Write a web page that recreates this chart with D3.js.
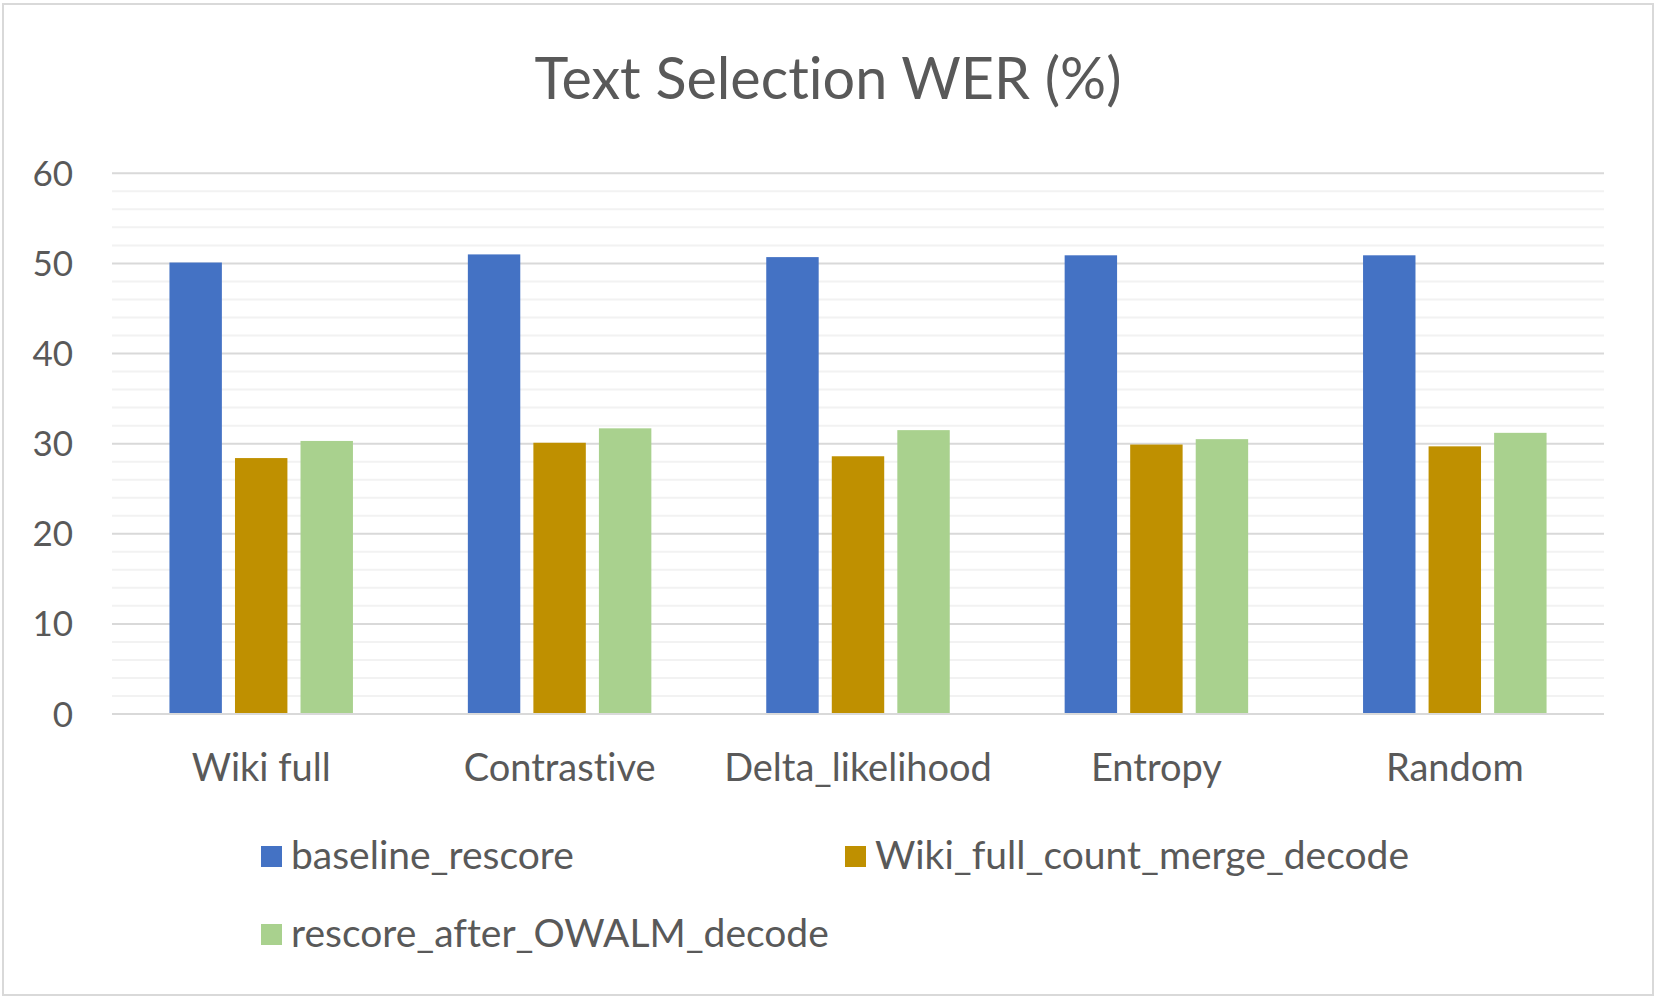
<!DOCTYPE html>
<html>
<head>
<meta charset="utf-8">
<script src="https://cdn.jsdelivr.net/npm/d3@7"></script>
<style>
  body { margin: 0; background: #fff; }
  text { font-family: Lato, "Open Sans", sans-serif; fill: #595959; font-variant-ligatures: none; }
</style>
</head>
<body>
<div id="chart"></div>
<script>
// data
var categories = ["Wiki full", "Contrastive", "Delta_likelihood", "Entropy", "Random"];
var seriesNames = ["baseline_rescore", "Wiki_full_count_merge_decode", "rescore_after_OWALM_decode"];
var baselineRescore = [50.1, 51.0, 50.7, 50.9, 50.9];
var wikiFullCountMerge = [28.4, 30.1, 28.6, 29.9, 29.7];
var rescoreAfterOwalm = [30.3, 31.7, 31.5, 30.5, 31.2];
var yTicks = [0, 10, 20, 30, 40, 50, 60];
var colors = ["#4472C4", "#BF9000", "#A9D18E"];

var seriesValues = [baselineRescore, wikiFullCountMerge, rescoreAfterOwalm];

var width = 1663,
  height = 1003,
  plot = { left: 112, right: 1604, top: 173.3, bottom: 714 };

var svg = d3.select("#chart")
  .append("svg")
  .attr("width", width)
  .attr("height", height);

// chart frame
svg.append("rect")
  .attr("x", 3)
  .attr("y", 4)
  .attr("width", 1650)
  .attr("height", 991)
  .attr("fill", "#fff")
  .attr("stroke", "#d9d9d9")
  .attr("stroke-width", 2);

var x0 = d3.scaleBand()
  .domain(categories)
  .range([plot.left, plot.right]);

var x1 = d3.scaleBand()
  .domain(seriesNames)
  .range([(x0.bandwidth() - 183.5) / 2, (x0.bandwidth() + 183.5) / 2])
  .paddingInner(0.2);

var y = d3.scaleLinear()
  .domain([0, 60])
  .range([plot.bottom, plot.top]);

// minor gridlines every 2
svg.append("g")
  .selectAll("line")
  .data(d3.range(2, 60, 2).filter(function (d) { return d % 10 !== 0; }))
  .join("line")
  .attr("x1", plot.left)
  .attr("x2", plot.right)
  .attr("y1", function (d) { return y(d); })
  .attr("y2", function (d) { return y(d); })
  .attr("stroke", "#f2f2f2")
  .attr("stroke-width", 2);

// major gridlines
svg.append("g")
  .selectAll("line")
  .data(yTicks)
  .join("line")
  .attr("x1", plot.left)
  .attr("x2", plot.right)
  .attr("y1", function (d) { return y(d); })
  .attr("y2", function (d) { return y(d); })
  .attr("stroke", "#d9d9d9")
  .attr("stroke-width", 2);

// y labels
svg.append("g")
  .selectAll("text")
  .data(yTicks)
  .join("text")
  .attr("x", 73)
  .attr("y", function (d) { return y(d); })
  .attr("dy", "0.36em")
  .attr("text-anchor", "end")
  .attr("font-size", 35)
  .text(function (d) { return d; });

// bars
var groups = svg.append("g")
  .selectAll("g")
  .data(categories)
  .join("g")
  .attr("transform", function (d) { return "translate(" + x0(d) + ",0)"; });

groups.selectAll("rect")
  .data(function (d, i) {
    return seriesNames.map(function (s, j) {
      return { series: s, value: seriesValues[j][i], color: colors[j] };
    });
  })
  .join("rect")
  .attr("x", function (d) { return x1(d.series); })
  .attr("width", x1.bandwidth())
  .attr("y", function (d) { return y(d.value); })
  .attr("height", function (d) { return y(0) - y(d.value); })
  .attr("fill", function (d) { return d.color; });

// baseline axis line over the bars
svg.append("line")
  .attr("x1", plot.left)
  .attr("x2", plot.right)
  .attr("y1", y(0))
  .attr("y2", y(0))
  .attr("stroke", "#d9d9d9")
  .attr("stroke-width", 2);

// category labels
svg.append("g")
  .selectAll("text")
  .data(categories)
  .join("text")
  .attr("x", function (d) { return x0(d) + x0.bandwidth() / 2; })
  .attr("y", 781)
  .attr("text-anchor", "middle")
  .attr("font-size", 38)
  .text(function (d) { return d; });

// title
svg.append("text")
  .attr("x", 828)
  .attr("y", 99)
  .attr("text-anchor", "middle")
  .attr("font-size", 57.5)
  .text("Text Selection WER (%)");

// legend
var legendPos = [
  { x: 261, y: 857 },
  { x: 845, y: 857 },
  { x: 261, y: 935 }
];

var legend = svg.append("g")
  .selectAll("g")
  .data(seriesNames)
  .join("g")
  .attr("transform", function (d, i) {
    return "translate(" + legendPos[i].x + "," + legendPos[i].y + ")";
  });

legend.append("rect")
  .attr("x", 0)
  .attr("y", -11)
  .attr("width", 21)
  .attr("height", 21)
  .attr("fill", function (d, i) { return colors[i]; });

legend.append("text")
  .attr("x", 30)
  .attr("y", 12)
  .attr("font-size", 39)
  .text(function (d) { return d; });
</script>
</body>
</html>
